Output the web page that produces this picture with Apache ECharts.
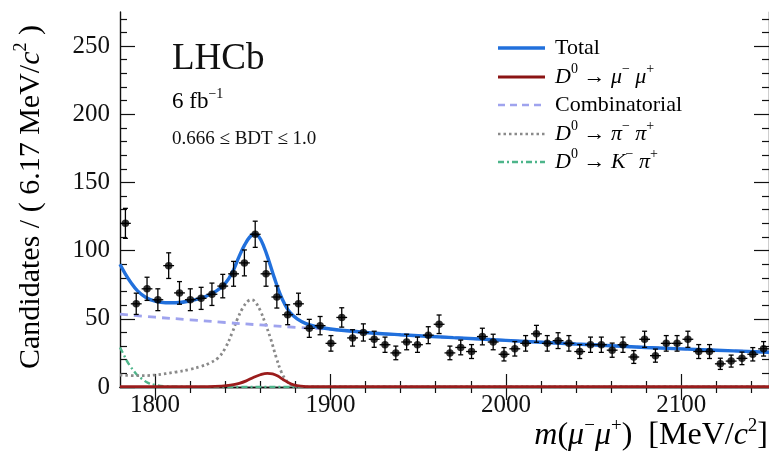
<!DOCTYPE html>
<html>
<head>
<meta charset="utf-8">
<script src="https://cdn.jsdelivr.net/npm/echarts@6/dist/echarts.min.js"></script>
<style>
  html, body { margin: 0; padding: 0; background: #ffffff; }
  #chart { width: 769px; height: 452px; }
</style>
</head>
<body>
<div id="chart"></div>
<script>
// Dimuon invariant-mass histogram: 60 bins of 6.17 MeV between 1780 and 2150 MeV
const massMin = 1780;
const massMax = 2150;
const binWidth = 6.1667;

const binCounts = [
  120, 61, 72, 64, 89, 69, 64, 65, 68, 74,
  83, 91, 112, 83, 66, 53, 61, 43, 45, 32,
  51, 36, 40, 35, 31, 25, 33, 31, 38, 46,
  25, 29, 26, 37, 33, 24, 28, 32, 39, 32,
  34, 32, 26, 31, 31, 27, 31, 22, 35, 23,
  32, 32, 35, 26, 26, 17, 19, 21, 24, 28
];
const binErrors = [
  11, 7.8, 8.5, 8, 9.4, 8.3, 8, 8.1, 8.2, 8.6,
  9.1, 9.5, 9.6, 9.1, 8.1, 7.3, 7.8, 6.6, 6.7, 5.7,
  7.1, 6, 6.3, 5.9, 5.6, 5, 5.7, 5.6, 6.2, 6.8,
  5, 5.4, 5.1, 6.1, 5.7, 4.9, 5.3, 5.7, 6.2, 5.7,
  5.8, 5.7, 5.1, 5.6, 5.6, 5.2, 5.6, 4.7, 5.9, 4.8,
  5.7, 5.7, 5.9, 5.1, 5.1, 4.1, 4.4, 4.6, 4.9, 5.3
];

// Fit components, [mass, candidates per bin]
const totalFit = [
  [1780, 90], [1783, 83], [1786, 77], [1790, 70.5], [1795, 65.5], [1800, 63],
  [1806, 61.8], [1812, 61.8], [1820, 63.2], [1828, 66], [1835, 70.5], [1840, 76],
  [1844, 84], [1848, 96], [1851, 104], [1854, 110], [1856.5, 112], [1859, 110.5],
  [1862, 103], [1865, 92], [1868, 80], [1871, 69], [1874, 60.5], [1877, 54.5],
  [1881, 50], [1886, 46.5], [1892, 44.2], [1900, 42.5], [1920, 40], [1940, 38.3],
  [1970, 36.2], [2000, 34.2], [2040, 31.5], [2080, 29], [2120, 27], [2150, 25.5]
];
const signalMuMu = [
  [1780, 0.3], [1830, 0.3], [1838, 0.6], [1843, 1.3], [1848, 2.7], [1852, 4.5],
  [1856, 7], [1860, 9], [1864, 10], [1867, 9.6], [1870, 8], [1873, 5.5],
  [1876, 3.2], [1879, 1.6], [1883, 0.7], [1890, 0.3], [2150, 0.2]
];
const combinatorial = [
  [1780, 53.5], [1800, 51.2], [1820, 49.3], [1840, 47.3], [1860, 45.5],
  [1880, 43.8], [1900, 42.2], [1920, 40], [1940, 38.3], [1970, 36.2],
  [2000, 34.2], [2040, 31.5], [2080, 29], [2120, 27], [2150, 25.5]
];
const misidPiPi = [
  [1780, 8.8], [1790, 8.3], [1800, 8.8], [1812, 11], [1820, 13], [1826, 15],
  [1831, 17.5], [1836, 21.5], [1840, 28.5], [1844, 40], [1847, 50], [1850, 58],
  [1853, 63], [1855, 64], [1857, 62.5], [1860, 56], [1863, 46], [1866, 35],
  [1869, 22], [1872, 11], [1875, 4.5], [1878, 1.4], [1882, 0.3], [1890, 0], [2150, 0]
];
const misidKPi = [
  [1780, 29], [1782, 24], [1784, 19], [1786, 15], [1788, 11.5], [1790, 8.5],
  [1793, 5.5], [1796, 3], [1800, 1.5], [1805, 0.6], [1815, 0.2], [1830, 0], [2150, 0]
];

// Axis ticks
const xMajorTicks = [1800, 1900, 2000, 2100];
const xMinorTicks = [1820, 1840, 1860, 1880, 1920, 1940, 1960, 1980,
                     2020, 2040, 2060, 2080, 2120, 2140];
const yMajorTicks = [0, 50, 100, 150, 200, 250];
const yMinorTicks = [10, 20, 30, 40, 60, 70, 80, 90, 110, 120, 130, 140,
                     160, 170, 180, 190, 210, 220, 230, 240, 260, 270];

const SERIF = 'Liberation Serif';
const INK = '#111111';

const points = binCounts.map((n, i) => [massMin + (i + 0.5) * binWidth, n, binErrors[i]]);

function frameAxis(position, ticks, len, withLine, labels) {
  const vertical = position === 'left' || position === 'right';
  return {
    type: 'value',
    min: vertical ? 0 : massMin,
    max: vertical ? 275 : massMax,
    position: position,
    axisLine: { show: withLine, lineStyle: { color: INK, width: 1.4 } },
    axisTick: { show: true, inside: true, length: len, customValues: ticks,
                lineStyle: { color: INK, width: 1.2 } },
    axisLabel: labels
      ? { show: true, customValues: ticks, fontFamily: SERIF, fontSize: 25, color: INK,
          margin: position === 'bottom' ? 6 : 10,
          formatter: function (v) { return String(v); } }
      : { show: false },
    splitLine: { show: false }
  };
}

const rowY = [48, 77, 105, 134, 162];
const legendRich = {
  n: { fontFamily: SERIF, fontSize: 22, color: INK, lineHeight: 30 },
  i: { fontFamily: SERIF, fontSize: 22, fontStyle: 'italic', color: INK, lineHeight: 30 },
  s: { fontFamily: SERIF, fontSize: 14, color: INK, lineHeight: 16, verticalAlign: 'top' }
};
const legendItems = [
  { text: '{n|Total}', color: '#2170dc', width: 3.4, dash: null },
  { text: '{i|D}{s|0}{n| → }{i|μ}{s|−}{n| }{i|μ}{s|+}', color: '#8b1414', width: 3.2, dash: null },
  { text: '{n|Combinatorial}', color: '#9fa3ee', width: 2.6, dash: [7, 5] },
  { text: '{i|D}{s|0}{n| → }{i|π}{s|−}{n| }{i|π}{s|+}', color: '#8a8a8a', width: 2.6, dash: [2.5, 3] },
  { text: '{i|D}{s|0}{n| → }{i|K}{s|−}{n| }{i|π}{s|+}', color: '#4db58a', width: 2.6, dash: [6, 3, 2, 3] }
];
const legendGraphics = [];
legendItems.forEach((item, k) => {
  legendGraphics.push({
    type: 'line', shape: { x1: 498, y1: rowY[k], x2: 545, y2: rowY[k] },
    style: { stroke: item.color, lineWidth: item.width, lineDash: item.dash }
  });
  legendGraphics.push({
    type: 'text', x: 555, y: rowY[k],
    style: { text: item.text, rich: legendRich, align: 'left', verticalAlign: 'middle' }
  });
});

const option = {
  backgroundColor: '#ffffff',
  animation: false,
  grid: { left: 120, right: -3, top: 12, bottom: 65, containLabel: false },
  xAxis: [
    frameAxis('bottom', xMajorTicks, 13, true, true),
    frameAxis('bottom', xMinorTicks, 6, false, false),
    frameAxis('top', xMajorTicks, 13, true, false),
    frameAxis('top', xMinorTicks, 6, false, false)
  ],
  yAxis: [
    frameAxis('left', yMajorTicks, 15, true, true),
    frameAxis('left', yMinorTicks, 7, false, false),
    frameAxis('right', yMajorTicks, 15, true, false),
    frameAxis('right', yMinorTicks, 7, false, false)
  ],
  series: [
    {
      name: 'Kpi', type: 'line', data: misidKPi, smooth: 0.4,
      showSymbol: false, z: 2,
      lineStyle: { color: '#4db58a', width: 2.4, type: [6, 3, 2, 3] }
    },
    {
      name: 'pipi', type: 'line', data: misidPiPi, smooth: 0.4,
      showSymbol: false, z: 2,
      lineStyle: { color: '#8a8a8a', width: 2.8, type: [2.5, 3] }
    },
    {
      name: 'comb', type: 'line', data: combinatorial, smooth: 0.4,
      showSymbol: false, z: 2,
      lineStyle: { color: '#9fa3ee', width: 2.8, type: [8, 6] }
    },
    {
      name: 'mumu', type: 'line', data: signalMuMu, smooth: 0.4,
      showSymbol: false, z: 3,
      lineStyle: { color: '#9b1c1c', width: 2.8 }
    },
    {
      name: 'total', type: 'line', data: totalFit, smooth: 0.4,
      showSymbol: false, z: 4,
      lineStyle: { color: '#2170dc', width: 3.4 }
    },
    {
      name: 'errors', type: 'custom', data: points, z: 5,
      renderItem: function (params, api) {
        const m = api.value(0), v = api.value(1), e = api.value(2);
        const c = api.coord([m, v]);
        const hi = api.coord([m, v + e]);
        const lo = api.coord([m, v - e]);
        const l = api.coord([m - binWidth / 2, v]);
        const r = api.coord([m + binWidth / 2, v]);
        const st = { stroke: '#000000', lineWidth: 1.3 };
        return {
          type: 'group',
          children: [
            { type: 'line', shape: { x1: c[0], y1: hi[1], x2: c[0], y2: lo[1] }, style: st },
            { type: 'line', shape: { x1: c[0] - 2.5, y1: hi[1], x2: c[0] + 2.5, y2: hi[1] }, style: st },
            { type: 'line', shape: { x1: c[0] - 2.5, y1: lo[1], x2: c[0] + 2.5, y2: lo[1] }, style: st },
            { type: 'line', shape: { x1: l[0], y1: c[1], x2: r[0], y2: c[1] }, style: st }
          ]
        };
      }
    },
    {
      name: 'data', type: 'scatter', data: points, z: 6,
      symbol: 'circle', symbolSize: 7.5,
      itemStyle: { color: '#000000' }
    }
  ],
  graphic: [
    {
      type: 'text', x: 172, y: 59,
      style: { text: 'LHCb', fontFamily: SERIF, fontSize: 37, fill: INK,
               align: 'left', verticalAlign: 'middle' }
    },
    {
      type: 'text', x: 172, y: 102,
      style: {
        text: '{n|6 fb}{s|−1}',
        rich: {
          n: { fontFamily: SERIF, fontSize: 23, color: INK, lineHeight: 30 },
          s: { fontFamily: SERIF, fontSize: 14, color: INK, lineHeight: 16, verticalAlign: 'top' }
        },
        align: 'left', verticalAlign: 'middle'
      }
    },
    {
      type: 'text', x: 172, y: 139,
      style: { text: '0.666 ≤ BDT ≤ 1.0', fontFamily: SERIF, fontSize: 19, fill: INK,
               align: 'left', verticalAlign: 'middle' }
    },
    {
      type: 'text', x: 31, y: 197, rotation: Math.PI / 2,
      style: {
        text: '{n|Candidates / ( 6.17 MeV/}{i|c}{s|2}{n| )}',
        rich: {
          n: { fontFamily: SERIF, fontSize: 30, color: INK, lineHeight: 38 },
          i: { fontFamily: SERIF, fontSize: 30, fontStyle: 'italic', color: INK, lineHeight: 38 },
          s: { fontFamily: SERIF, fontSize: 18, color: INK, lineHeight: 21, verticalAlign: 'top' }
        },
        align: 'center', verticalAlign: 'middle'
      }
    },
    {
      type: 'text', x: 768, y: 436,
      style: {
        text: '{i|m}{n|(}{i|μ}{s|−}{i|μ}{s|+}{n|)  [MeV/}{i|c}{s|2}{n|]}',
        rich: {
          n: { fontFamily: SERIF, fontSize: 32, color: INK, lineHeight: 38 },
          i: { fontFamily: SERIF, fontSize: 32, fontStyle: 'italic', color: INK, lineHeight: 38 },
          s: { fontFamily: SERIF, fontSize: 19, color: INK, lineHeight: 21, verticalAlign: 'top' }
        },
        align: 'right', verticalAlign: 'middle'
      }
    }
  ].concat(legendGraphics)
};

const chart = echarts.init(document.getElementById('chart'), null, { renderer: 'canvas' });
chart.setOption(option);
</script>
</body>
</html>
